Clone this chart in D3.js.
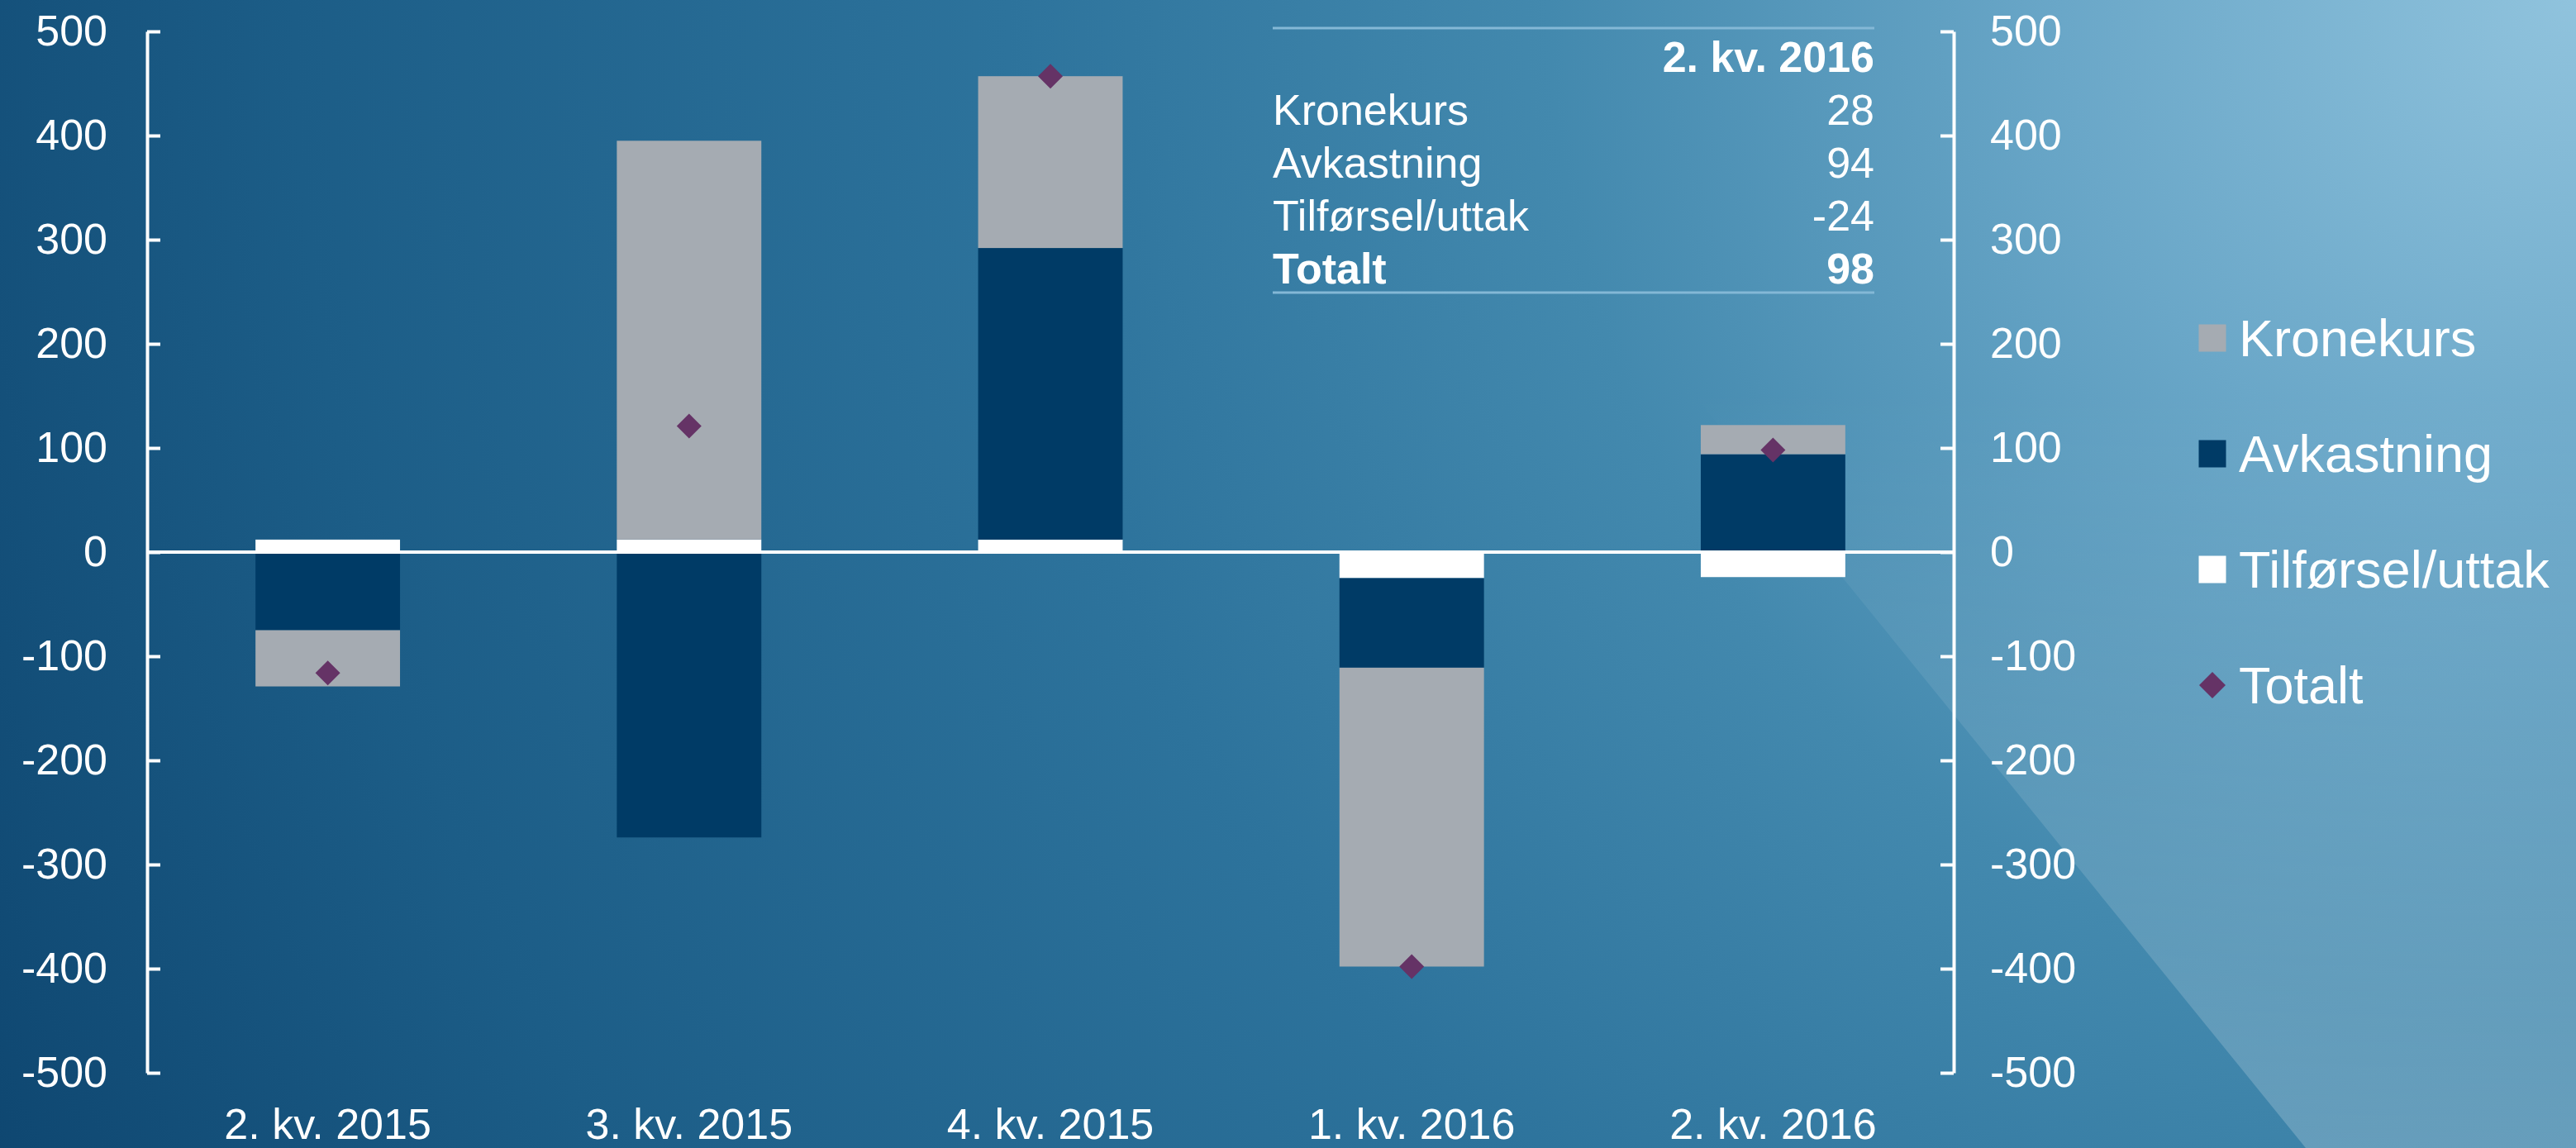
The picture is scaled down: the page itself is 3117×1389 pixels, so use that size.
<!DOCTYPE html>
<html>
<head>
<meta charset="utf-8">
<script src="https://cdn.jsdelivr.net/npm/d3@7"></script>
<style>
  body { margin: 0; overflow: hidden; }
  svg { display: block; }
  text { font-family: "Liberation Sans", Arial, sans-serif; fill: #fff; }
</style>
</head>
<body>
<svg></svg>
<script>
const categories = ['2. kv. 2015', '3. kv. 2015', '4. kv. 2015', '1. kv. 2016', '2. kv. 2016'];
const kronekurs = [-54, 383, 165, -287, 28];
const avkastning = [-75, -274, 280, -86, 94];
const tilforsel = [12, 12, 12, -25, -24];
const totalt = [-116, 121, 457, -398, 98];
const yTicks = [-500, -400, -300, -200, -100, 0, 100, 200, 300, 400, 500];
const seriesNames = ['Kronekurs', 'Avkastning', 'Tilførsel/uttak', 'Totalt'];
const tableHeader = '2. kv. 2016';

window.onload = () => {

  const width = 3117;
  const height = 1389;

  const colors = {Kronekurs: '#a5abb2', Avkastning: '#003b66', 'Tilførsel/uttak': '#ffffff', Totalt: '#653366'};

  const svg = d3.select('svg').attr('width', width).attr('height', height);

  // background
  const defs = svg.append('defs');
  const bg = defs.append('radialGradient').attr('id', 'bg')
    .attr('gradientUnits', 'userSpaceOnUse')
    .attr('cx', 3117).attr('cy', 0).attr('r', 3450);
  [[0, '#90c3dd'], [0.18, '#6aa7c8'], [0.36, '#4389ae'], [0.55, '#2d739c'], [0.8, '#1c5d87'], [1, '#0e4670']]
    .forEach(s => bg.append('stop').attr('offset', s[0]).attr('stop-color', s[1]));

  const shade = defs.append('linearGradient').attr('id', 'shade')
    .attr('gradientUnits', 'userSpaceOnUse')
    .attr('x1', 0).attr('y1', 470).attr('x2', 0).attr('y2', 1389);
  shade.append('stop').attr('offset', 0).attr('stop-color', '#fff').attr('stop-opacity', 0);
  shade.append('stop').attr('offset', 1).attr('stop-color', '#fff').attr('stop-opacity', 0.21);

  svg.append('rect').attr('width', width).attr('height', height).attr('fill', 'url(#bg)');
  svg.append('path')
    .attr('d', 'M1662,0 L2790,1389 L3117,1389 L3117,0 Z')
    .attr('fill', 'url(#shade)');

  const x = d3.scaleBand().domain(categories).range([178, 2364]).paddingInner(0.6).paddingOuter(0.3);
  const y = d3.scaleLinear().domain([-500, 500]).range([1298, 38]);

  // stacked bars
  const rows = categories.map((c, i) => ({
    cat: c,
    'Tilførsel/uttak': tilforsel[i],
    Avkastning: avkastning[i],
    Kronekurs: kronekurs[i]
  }));
  const stack = d3.stack()
    .keys(['Tilførsel/uttak', 'Avkastning', 'Kronekurs'])
    .offset(d3.stackOffsetDiverging);

  svg.append('g').selectAll('g')
    .data(stack(rows))
    .enter().append('g')
    .attr('fill', d => colors[d.key])
    .selectAll('rect')
    .data(d => d)
    .enter().append('rect')
    .attr('x', d => x(d.data.cat))
    .attr('width', x.bandwidth())
    .attr('y', d => y(d[1]))
    .attr('height', d => y(d[0]) - y(d[1]));

  // zero line
  svg.append('line')
    .attr('x1', 178).attr('x2', 2364)
    .attr('y1', y(0)).attr('y2', y(0))
    .attr('stroke', '#fff').attr('stroke-width', 4);

  // totals
  const diamond = d3.symbol().type(d3.symbolSquare).size(450);
  svg.append('g').selectAll('path')
    .data(totalt)
    .enter().append('path')
    .attr('d', diamond)
    .attr('fill', colors.Totalt)
    .attr('transform', (d, i) => 'translate(' + (x(categories[i]) + x.bandwidth() / 2) + ',' + y(d) + ') rotate(45)');

  // axes
  const styleAxis = g => {
    g.selectAll('.domain, .tick line').attr('stroke', '#fff').attr('stroke-width', 4);
    g.selectAll('text').attr('fill', '#fff').style('font-size', '52px')
      .style('font-family', '"Liberation Sans", Arial, sans-serif');
    g.attr('font-family', null).attr('font-size', null);
  };

  svg.append('g')
    .attr('transform', 'translate(178,0)')
    .call(d3.axisLeft(y).tickValues(yTicks).tickFormat(d => String(d))
      .tickSizeInner(-16).tickSizeOuter(0).tickPadding(48))
    .call(styleAxis);

  svg.append('g')
    .attr('transform', 'translate(2364,0)')
    .call(d3.axisRight(y).tickValues(yTicks).tickFormat(d => String(d))
      .tickSizeInner(-16).tickSizeOuter(0).tickPadding(44))
    .call(styleAxis);

  const xAxis = svg.append('g')
    .attr('transform', 'translate(0,1298)')
    .call(d3.axisBottom(x).tickSize(0).tickPadding(0));
  xAxis.select('.domain').remove();
  xAxis.selectAll('text').attr('dy', null).attr('y', 80).style('font-size', '52px')
    .style('font-family', '"Liberation Sans", Arial, sans-serif').attr('fill', '#fff');
  xAxis.attr('font-family', null).attr('font-size', null);

  // table
  const tbl = svg.append('g');
  const tx0 = 1540, tx1 = 2268;
  tbl.append('line').attr('x1', tx0).attr('x2', tx1).attr('y1', 34).attr('y2', 34)
    .attr('stroke', '#84b8d6').attr('stroke-width', 3);
  tbl.append('line').attr('x1', tx0).attr('x2', tx1).attr('y1', 354).attr('y2', 354)
    .attr('stroke', '#84b8d6').attr('stroke-width', 3);
  tbl.append('text').attr('x', tx1).attr('y', 87).attr('text-anchor', 'end')
    .style('font-size', '52px').style('font-weight', 'bold').text(tableHeader);

  const last = categories.length - 1;
  const tableRows = [
    [seriesNames[0], kronekurs[last], false],
    [seriesNames[1], avkastning[last], false],
    [seriesNames[2], tilforsel[last], false],
    [seriesNames[3], totalt[last], true]
  ];
  tableRows.forEach((r, i) => {
    const by = 151 + i * 64;
    tbl.append('text').attr('x', tx0).attr('y', by)
      .style('font-size', '52px').style('font-weight', r[2] ? 'bold' : 'normal').text(r[0]);
    tbl.append('text').attr('x', tx1).attr('y', by).attr('text-anchor', 'end')
      .style('font-size', '52px').style('font-weight', r[2] ? 'bold' : 'normal').text(r[1]);
  });

  // legend
  const legend = svg.append('g').selectAll('g')
    .data(seriesNames)
    .enter().append('g')
    .attr('transform', (d, i) => 'translate(2677,' + (409 + i * 140) + ')');

  legend.filter(d => d !== 'Totalt').append('rect')
    .attr('x', -16.5).attr('y', -16.5).attr('width', 33).attr('height', 33)
    .attr('fill', d => colors[d]);
  legend.filter(d => d === 'Totalt').append('path')
    .attr('d', d3.symbol().type(d3.symbolSquare).size(512))
    .attr('transform', 'rotate(45)')
    .attr('fill', colors.Totalt);
  legend.append('text')
    .attr('x', 32).attr('y', 22)
    .style('font-size', '63px')
    .text(d => d);

};
</script>
</body>
</html>
